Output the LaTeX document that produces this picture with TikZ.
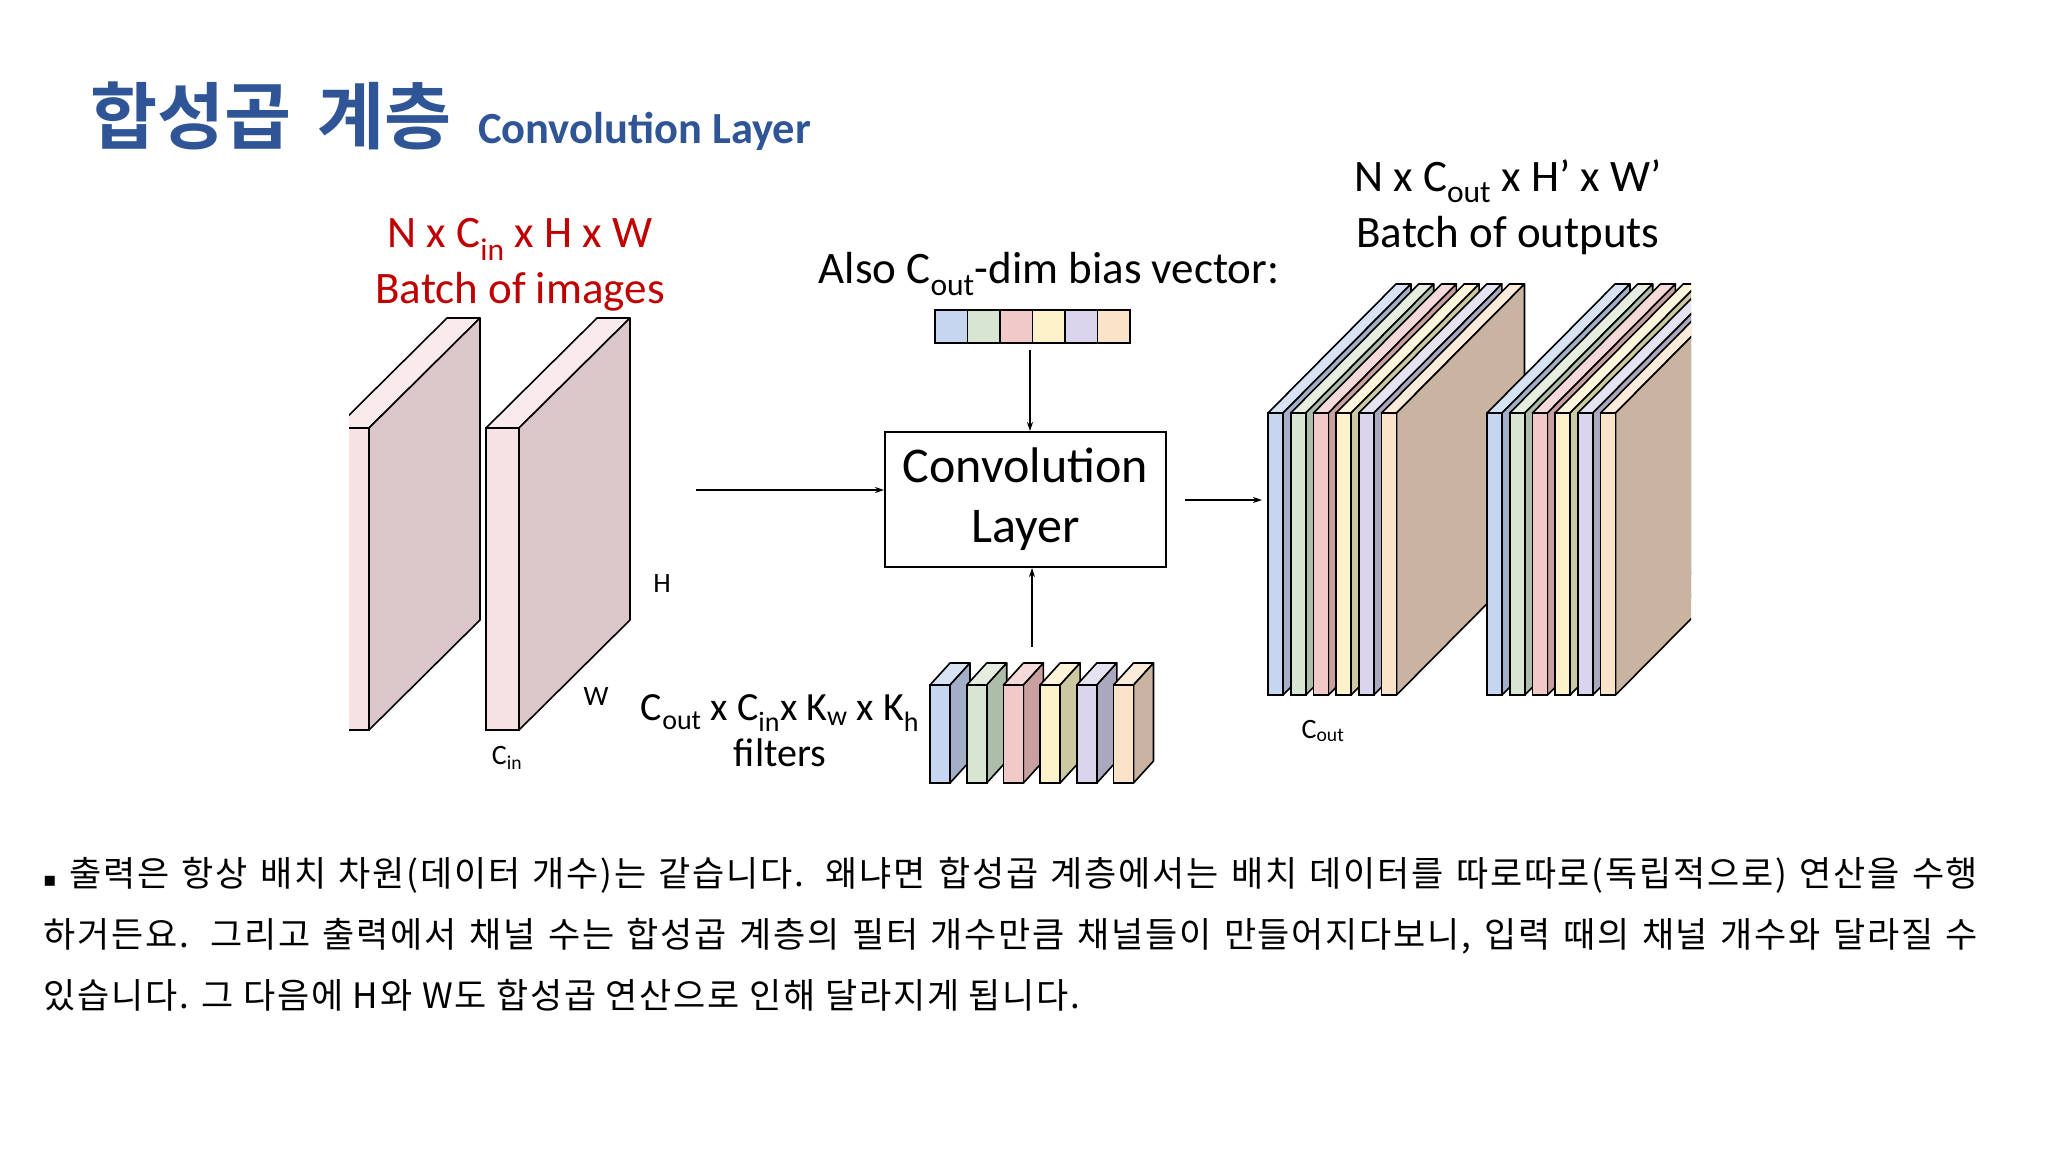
\documentclass[tikz,border=0pt]{standalone}
\usepackage{fontspec}
\setmainfont{Carlito}
\newfontfamily\kr{Noto Sans CJK KR}[LetterSpace=5]
\newfontfamily\krb{Noto Sans CJK KR Bold}[BoldFont={}]
\newfontfamily\dv{DejaVu Sans}
\definecolor{titleblue}{HTML}{2F5597}
\definecolor{redlab}{HTML}{C00000}
\definecolor{bF}{HTML}{C6D6F0}\definecolor{bS}{HTML}{A3AFC8}
\definecolor{gF}{HTML}{D8E5D0}\definecolor{gS}{HTML}{AEBCAA}
\definecolor{pF}{HTML}{F2C9C9}\definecolor{pS}{HTML}{C8A0A0}
\definecolor{yF}{HTML}{FDF1CA}\definecolor{yS}{HTML}{CCC8A2}
\definecolor{lF}{HTML}{DAD5EC}\definecolor{lS}{HTML}{AAA8BE}
\definecolor{oF}{HTML}{FBE3C9}\definecolor{oS}{HTML}{C8B4A0}
\definecolor{iF}{HTML}{F6E1E4}\definecolor{iS}{HTML}{DBC6C9}\definecolor{iT}{HTML}{F9E9EB}
% x, ytop, w, h, dx, dy, front, side
\newcommand\myslab[8]{%
  \filldraw[fill=#7!70!white,line width=1.6pt,line join=round] (#1,#2) -- ({#1+#3},#2) -- ({#1+#3+#5},{#2-#6}) -- ({#1+#5},{#2-#6}) -- cycle;
  \filldraw[fill=#8,line width=1.6pt,line join=round] ({#1+#3},#2) -- ({#1+#3+#5},{#2-#6}) -- ({#1+#3+#5},{#2+#4-#6}) -- ({#1+#3},{#2+#4}) -- cycle;
  \filldraw[fill=#7,line width=1.6pt] (#1,#2) rectangle ({#1+#3},{#2+#4});}
\tikzset{lab/.style={font=\fontsize{45}{52}\selectfont,align=center,inner sep=0pt},
  small/.style={font=\fontsize{28}{32}\selectfont,inner sep=0pt},
  arr/.style={-{Stealth[length=9pt,width=6pt]},line width=1.8pt},
  body/.style={font=\kr\fontsize{35}{40}\selectfont,anchor=base west,inner sep=0pt}}
\usetikzlibrary{arrows.meta}
\begin{document}
\begin{tikzpicture}[x=1pt,y=-1pt]
\useasboundingbox (0,0) rectangle (2048,1152);
\fill[white] (0,0) rectangle (2048,1152);
% title
\node[anchor=base west,inner sep=0pt,text=titleblue,font=\krb\fontsize{73}{76}\selectfont] (t1) at (90,143) {합성곱\hspace{0.35em}계층};
\node[anchor=base west,inner sep=0pt,text=titleblue,font=\bfseries\fontsize{44.5}{48}\selectfont] (t2) at (478,143) {Convolution Layer};
% input slabs
\begin{scope}
\clip (349,0) rectangle (800,1000);
\myslab{336}{428}{33}{302}{111}{110}{iF}{iS}
\myslab{486}{428}{33}{302}{111}{110}{iF}{iS}
\end{scope}
\coordinate (inR) at (696,490);
\node[lab,text=redlab] (inlab) at (520,265) {N x C\textsubscript{in} x H x W\\[4pt]Batch of images};
\node[small] (hl) at (662,584) {H};
\node[small] (wl) at (596,697) {W};
\node[small] (cl) at (507,758) {C\textsubscript{in}};
% conv box
\node[draw,line width=2pt,minimum width=281pt,minimum height=135pt,lab,font=\fontsize{50}{60}\selectfont] (conv) at (1025.5,499.5) {Convolution\\Layer};
\draw[arr] (inR) -- (inR -| conv.west);
% bias
\foreach \c [count=\i from 0] in {bF,gF,pF,yF,lF,oF}
  \filldraw[fill=\c,line width=1.6pt] ({935+\i*32.5},310) rectangle ({935+(\i+1)*32.5},343);
\coordinate (bias) at (1030,350);
\node[lab] (blab) at (1049,274) {Also C\textsubscript{out}-dim bias vector:};
\draw[arr] (bias) -- (conv.north -| bias);
% filters
\foreach \c/\s [count=\i from 0] in {bF/bS,gF/gS,pF/pS,yF/yS,lF/lS,oF/oS}
  {\myslab{930+\i*36.7}{685}{20}{98}{20}{22}{\c}{\s}}
\coordinate (filt) at (1032,647);
\draw[arr] (filt) -- (conv.south -| filt);
\node[lab,font=\fontsize{40}{46}\selectfont] (flab) at (780,731) {C\textsubscript{out} x C\textsubscript{in}x K\textsubscript{w} x K\textsubscript{h}\\filters};
% outputs
\coordinate (outL) at (1262,500);
\draw[arr] (conv.east |- outL) ++(18,0) -- (outL);
\begin{scope}
\clip (1200,0) rectangle (1691,1000);
\foreach \x in {1268,1487}
 \foreach \c/\s [count=\i from 0] in {bF/bS,gF/gS,pF/pS,yF/yS,lF/lS,oF/oS}
  {\myslab{\x+\i*22.7}{413}{15}{282}{128}{129}{\c}{\s}}
\end{scope}
\node[lab] (olab) at (1508,207) {N x C\textsubscript{out} x H’ x W’\\[4pt]Batch of outputs};
\node[small] (col) at (1323,731) {C\textsubscript{out}};
% body text
\node[body] (l1) at (43,886) {\hbox to 1935pt{{\dv\fontsize{20}{20}\selectfont▪} 출력은 항상 배치 차원(데이터 개수)는 같습니다. 왜냐면 합성곱 계층에서는 배치 데이터를 따로따로(독립적으로) 연산을 수행}};
\node[body] (l2) at (43,947) {\hbox to 1935pt{하거든요. 그리고 출력에서 채널 수는 합성곱 계층의 필터 개수만큼 채널들이 만들어지다보니, 입력 때의 채널 개수와 달라질 수}};
\node[body] (l3) at (43,1008) {있습니다. 그 다음에 H와 W도 합성곱 연산으로 인해 달라지게 됩니다.};
\end{tikzpicture}
\end{document}
